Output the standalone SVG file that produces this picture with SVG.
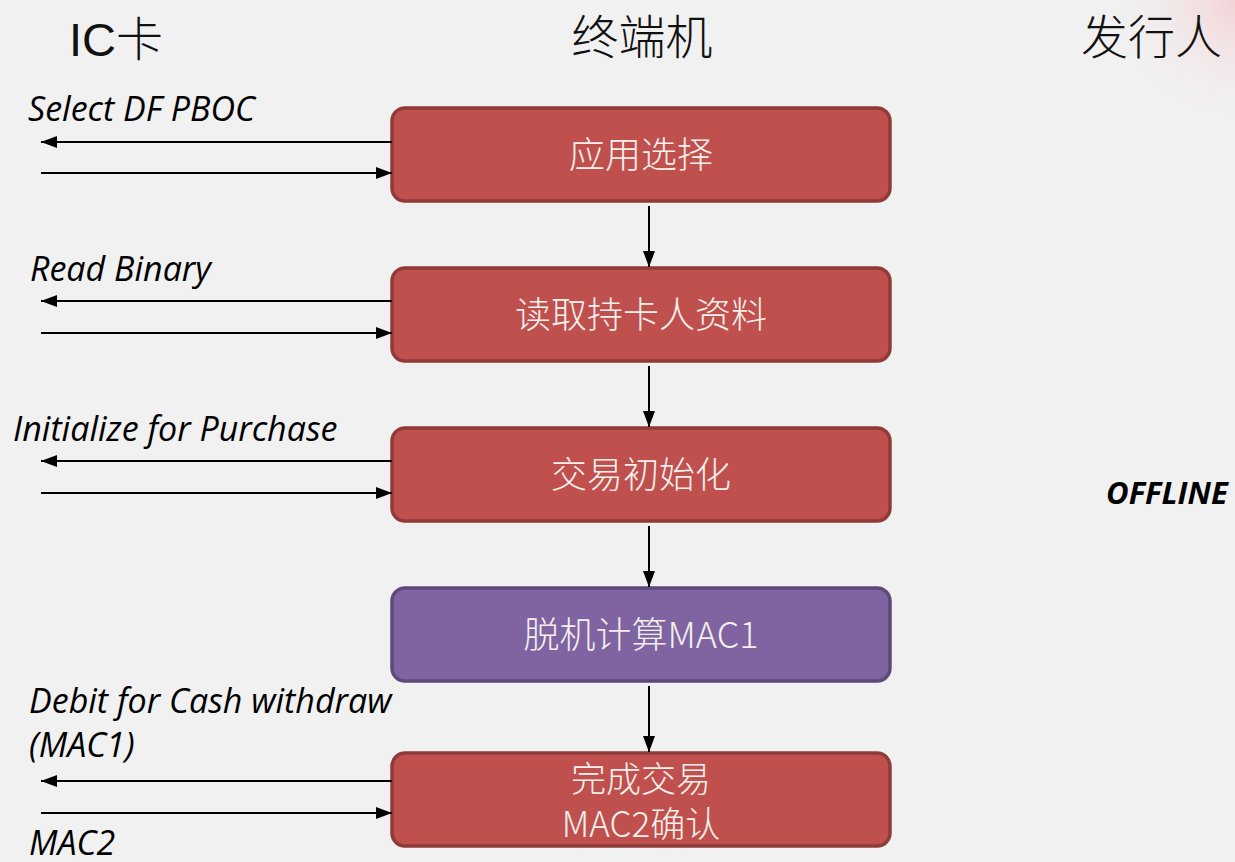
<svg xmlns="http://www.w3.org/2000/svg" width="1235" height="862" viewBox="0 0 1235 862">
<defs>
<marker id="ahL" viewBox="0 0 16 12" refX="16" refY="6" markerWidth="16" markerHeight="12" markerUnits="userSpaceOnUse" orient="auto">
<path d="M0,0 L16,6 L0,12 z" fill="#000"/>
</marker>
<radialGradient id="pink" cx="1235" cy="0" r="140" gradientUnits="userSpaceOnUse">
<stop offset="0" stop-color="#f4d3d6"/>
<stop offset="1" stop-color="#f1f1f1" stop-opacity="0"/>
</radialGradient>
</defs>
<style>
.bg{fill:#f1f1f1}
.red rect{fill:#c0504d;stroke:#8e3b39;stroke-width:3.5}
.pur rect{fill:#8064a2;stroke:#5e4a78;stroke-width:3.5}
.bt{font-family:"Noto Sans CJK SC","Liberation Sans",sans-serif;font-size:36px;font-weight:300;fill:#f3f0ec;text-anchor:middle}
.bt2{font-size:35px}
.hd{font-family:"Liberation Sans","Noto Sans CJK SC",sans-serif;font-size:47px;font-weight:300;fill:#111}
.lb{font-family:"Open Sans","Liberation Sans",sans-serif;font-style:italic;font-size:34px;fill:#000}
.off{font-family:"Open Sans","Liberation Sans",sans-serif;font-style:italic;font-weight:bold;font-size:31px;fill:#000}
#connectors line{stroke:#000;stroke-width:2}
</style>
<rect class="bg" x="0" y="0" width="1235" height="862"/>
<rect x="1050" y="0" width="185" height="160" fill="url(#pink)"/>

<g id="headers">
<text class="hd" x="69" y="56">IC卡</text>
<text class="hd" x="642" y="54" text-anchor="middle">终端机</text>
<text class="hd" x="1081" y="54">发行人</text>
<text class="off" x="1106" y="504">OFFLINE</text>
</g>

<g id="labels">
<text class="lb" x="28" y="121">Select DF PBOC</text>
<text class="lb" x="30" y="281">Read Binary</text>
<text class="lb" x="13" y="441">Initialize for Purchase</text>
<text class="lb" x="29" y="713">Debit for Cash withdraw</text>
<text class="lb" x="29" y="757">(MAC1)</text>
<text class="lb" x="29" y="855">MAC2</text>
</g>

<g id="node1" class="red">
<rect x="392" y="108" width="498" height="93" rx="13"/>
<text class="bt" x="641" y="168">应用选择</text>
</g>
<g id="node2" class="red">
<rect x="392" y="268" width="498" height="93" rx="13"/>
<text class="bt" x="641" y="328">读取持卡人资料</text>
</g>
<g id="node3" class="red">
<rect x="392" y="428" width="498" height="93" rx="13"/>
<text class="bt" x="641" y="488">交易初始化</text>
</g>
<g id="node4" class="pur">
<rect x="392" y="588" width="498" height="93" rx="13"/>
<text class="bt" x="641" y="648">脱机计算MAC1</text>
</g>
<g id="node5" class="red">
<rect x="392" y="753" width="498" height="93" rx="13"/>
<text class="bt bt2" x="641" y="792">完成交易</text>
<text class="bt bt2" x="641" y="837">MAC2确认</text>
</g>

<g id="connectors">
<line x1="392" y1="142" x2="41" y2="142" marker-end="url(#ahL)"/>
<line x1="41" y1="173" x2="392" y2="173" marker-end="url(#ahL)"/>
<line x1="392" y1="301" x2="41" y2="301" marker-end="url(#ahL)"/>
<line x1="41" y1="333" x2="392" y2="333" marker-end="url(#ahL)"/>
<line x1="392" y1="461" x2="41" y2="461" marker-end="url(#ahL)"/>
<line x1="41" y1="493" x2="392" y2="493" marker-end="url(#ahL)"/>
<line x1="392" y1="781" x2="41" y2="781" marker-end="url(#ahL)"/>
<line x1="41" y1="813" x2="392" y2="813" marker-end="url(#ahL)"/>
<line x1="649" y1="206" x2="649" y2="267" marker-end="url(#ahL)"/>
<line x1="649" y1="366" x2="649" y2="427" marker-end="url(#ahL)"/>
<line x1="649" y1="526" x2="649" y2="587" marker-end="url(#ahL)"/>
<line x1="649" y1="686" x2="649" y2="752" marker-end="url(#ahL)"/>
</g>
</svg>
